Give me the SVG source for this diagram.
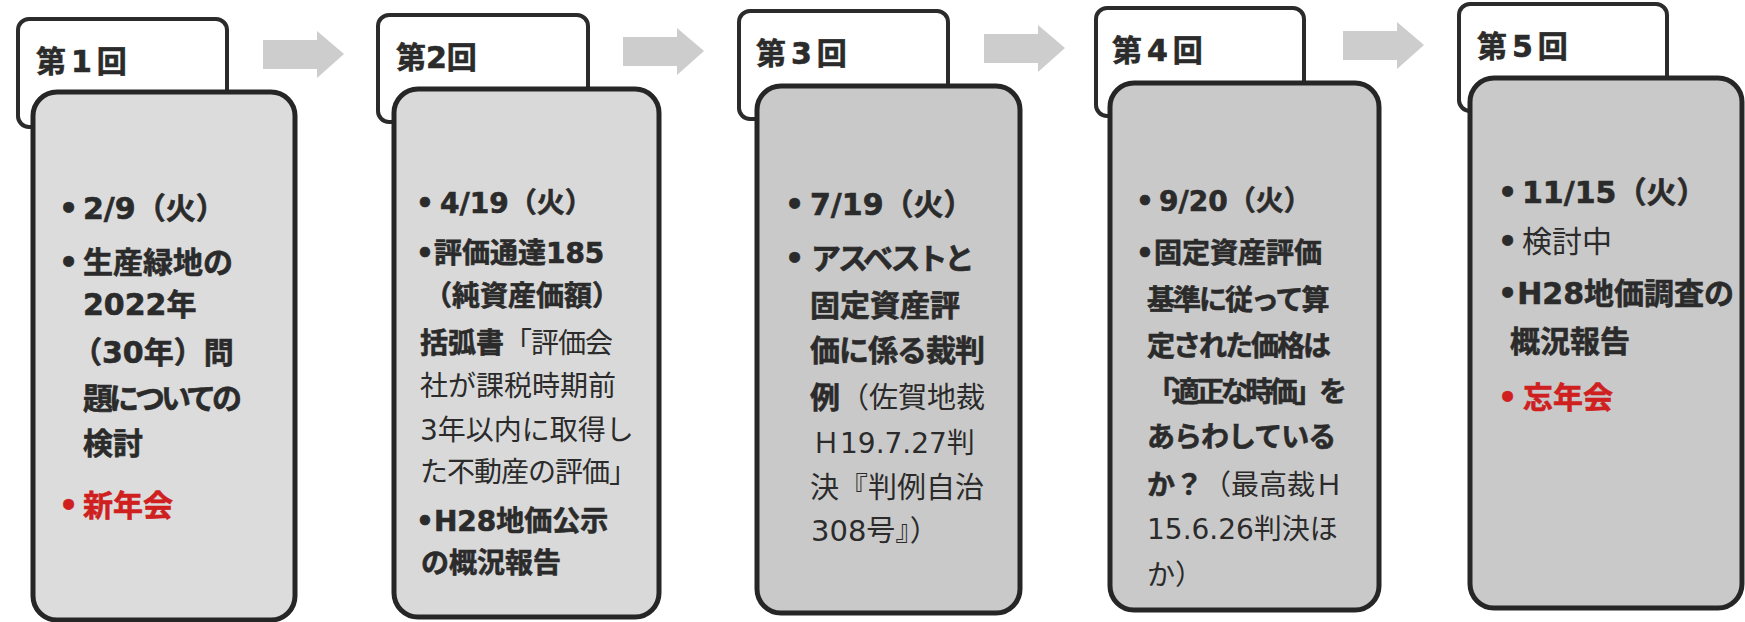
<svg xmlns="http://www.w3.org/2000/svg" width="1745" height="622" viewBox="0 0 1745 622">
<defs>
<style>
.tab{fill:#ffffff;stroke:#2b2b2b;stroke-width:4}
.main{stroke:#262626;stroke-width:5}
.arrow{fill:#cdcdcd}
text{font-family:"DejaVu Sans","Noto Sans CJK JP","Noto Sans",sans-serif;fill:#2b2b2b}
.ttl{font-size:30px;font-weight:700;stroke:#2b2b2b;stroke-width:0.6}
.b{font-weight:700;stroke:#2b2b2b;stroke-width:0.6}
.r{font-weight:400;stroke:none}
.red{fill:#cf1f1f;stroke:#cf1f1f}
</style>
</defs>
<rect width="1745" height="622" fill="#ffffff"/>
<g id="connectors">
<polygon class="arrow" points="263,40 317,40 317,31 344,54 317,78 317,69 263,69"/>
<polygon class="arrow" points="623,37 677,37 677,28 704,51 677,75 677,66 623,66"/>
<polygon class="arrow" points="984,34 1038,34 1038,25 1065,48 1038,72 1038,63 984,63"/>
<polygon class="arrow" points="1343,31 1397,31 1397,22 1424,45 1397,69 1397,60 1343,60"/>
</g>
<g id="node1">
<rect class="tab" x="18" y="19" width="209" height="108" rx="11"/>
<rect class="main" x="33" y="92" width="262" height="528" rx="24" fill="#dcdcdc"/>
<text class="ttl" x="36" y="72" letter-spacing="5">第1回</text>
<g style="font-size:30px">
<text x="59" y="219" class="b">•</text><text x="83" y="219" class="b">2/9（火）</text>
<text x="59" y="273" class="b">•</text><text x="83" y="273" class="b">生産緑地の</text>
<text x="83" y="315" class="b">2022年</text>
<text x="72" y="363" class="b">（30年）問</text>
<text x="83" y="409" class="b" letter-spacing="-4">題についての</text>
<text x="83" y="454" class="b">検討</text>
<text x="59" y="516" class="b red">•</text><text x="83" y="516" class="b red">新年会</text>
</g>
</g>
<g id="node2">
<rect class="tab" x="378" y="15" width="210" height="107" rx="11"/>
<rect class="main" x="394" y="89" width="265" height="528" rx="24" fill="#d9d9d9"/>
<text class="ttl" x="396" y="68">第2回</text>
<g style="font-size:28px">
<text x="416" y="213" class="b">•</text><text x="440" y="213" class="b">4/19（火）</text>
<text x="416" y="263" class="b">•評価通達185</text>
<text x="424" y="306" class="b">（純資産価額）</text>
<text x="420" y="353"><tspan class="b">括弧書</tspan><tspan class="r" letter-spacing="-1">「評価会</tspan></text>
<text x="420" y="396" class="r">社が課税時期前</text>
<text x="420" y="440" class="r">3年以内に取得し</text>
<text x="420" y="482" class="r" letter-spacing="-1">た不動産の評価」</text>
<text x="416" y="531" class="b">•H28地価公示</text>
<text x="421" y="573" class="b">の概況報告</text>
</g>
</g>
<g id="node3">
<rect class="tab" x="739" y="11" width="209" height="108" rx="11"/>
<rect class="main" x="757" y="86" width="263" height="527" rx="24" fill="#c9c9c9"/>
<text class="ttl" x="756" y="64" letter-spacing="5">第3回</text>
<g style="font-size:30px">
<text x="785" y="215" class="b">•</text><text x="810" y="215" class="b">7/19（火）</text>
<text x="785" y="269" class="b">•</text><text x="811" y="269" class="b" letter-spacing="-3">アスベストと</text>
<text x="810" y="316" class="b">固定資産評</text>
<text x="810" y="361" class="b" letter-spacing="-1">価に係る裁判</text>
<text x="810" y="408"><tspan class="b">例</tspan><tspan class="r" style="font-size:29px">（佐賀地裁</tspan></text>
<text x="812" y="453" class="r" style="font-size:28px">Ｈ19.7.27判</text>
<text x="810" y="498" class="r" style="font-size:29px">決『判例自治</text>
<text x="811" y="541" class="r" style="font-size:29px">308号』）</text>
</g>
</g>
<g id="node4">
<rect class="tab" x="1096" y="8" width="208" height="108" rx="11"/>
<rect class="main" x="1110" y="83" width="269" height="527" rx="24" fill="#c9c9c9"/>
<text class="ttl" x="1112" y="61" letter-spacing="5">第4回</text>
<g style="font-size:28px">
<text x="1136" y="211" class="b">•</text><text x="1159" y="211" class="b">9/20（火）</text>
<text x="1136" y="263" class="b">•固定資産評価</text>
<text x="1147" y="310" class="b" letter-spacing="-2">基準に従って算</text>
<text x="1147" y="356" class="b" letter-spacing="-2">定された価格は</text>
<text x="1147" y="402" class="b" textLength="200" lengthAdjust="spacing">「適正な時価」を</text>
<text x="1147" y="447" class="b" letter-spacing="-1">あらわしている</text>
<text x="1147" y="495"><tspan class="b">か？</tspan><tspan class="r">（最高裁Ｈ</tspan></text>
<text x="1147" y="539" class="r">15.6.26判決ほ</text>
<text x="1147" y="585" class="r">か）</text>
</g>
</g>
<g id="node5">
<rect class="tab" x="1459" y="4" width="208" height="107" rx="11"/>
<rect class="main" x="1470" y="78" width="272" height="530" rx="24" fill="#c9c9c9"/>
<text class="ttl" x="1477" y="57" letter-spacing="5">第5回</text>
<g style="font-size:30px">
<text x="1498" y="203" class="b">•</text><text x="1522" y="203" class="b">11/15（火）</text>
<text x="1498" y="252" class="b">•</text><text x="1522" y="252" class="r">検討中</text>
<text x="1498" y="304" class="b">•H28地価調査の</text>
<text x="1510" y="352" class="b">概況報告</text>
<text x="1498" y="408" class="b red">•</text><text x="1523" y="408" class="b red">忘年会</text>
</g>
</g>
</svg>
